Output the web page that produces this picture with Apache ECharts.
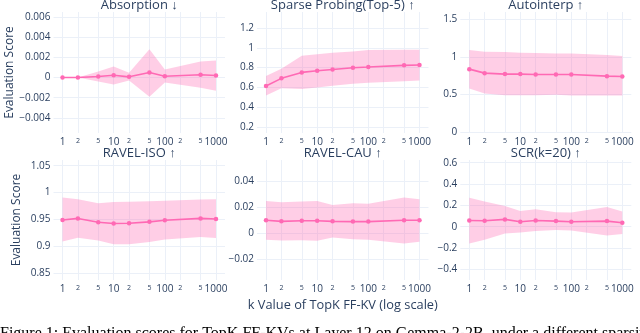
<!DOCTYPE html>
<html><head><meta charset="utf-8">
<script src="https://cdn.jsdelivr.net/npm/echarts@6/dist/echarts.min.js"></script>
<style>html,body{margin:0;padding:0;background:#fff}#c{width:640px;height:333px}</style>
</head><body><div id="c"></div>
<script>
// ---- data ----
const kValues = [1, 2, 5, 10, 20, 50, 100, 500, 1000];
const xTickValues = [1, 2, 5, 10, 20, 50, 100, 200, 500, 1000];
const xTickLabels = ['1', '2', '5', '10', '2', '5', '100', '2', '5', '1000'];
const xMinorTicks = [2, 5, 20, 50, 200, 500];

const panelTitles = ['Absorption ↓', 'Sparse Probing(Top-5) ↑', 'Autointerp ↑', 'RAVEL-ISO ↑', 'RAVEL-CAU ↑', 'SCR(k=20) ↑'];

const absorptionMean  = [0, 0, 0.0001, 0.00023, 0.00007, 0.0005, 0.00013, 0.00027, 0.0002];
const absorptionUpper = [0, 0, 0.0006, 0.0011, 0.00047, 0.0028, 0.0008, 0.0016, 0.0017];
const absorptionLower = [0, 0, -0.0004, -0.0007, -0.0003, -0.0019, -0.0005, -0.001, -0.0013];

const sparseMean  = [0.615, 0.692, 0.752, 0.769, 0.782, 0.799, 0.806, 0.823, 0.826];
const sparseUpper = [0.715, 0.79, 0.92, 0.936, 0.95, 0.963, 0.977, 0.98, 0.98];
const sparseLower = [0.518, 0.592, 0.585, 0.60, 0.618, 0.638, 0.648, 0.662, 0.669];

const autointerpMean  = [0.836, 0.783, 0.77, 0.77, 0.765, 0.765, 0.765, 0.743, 0.739];
const autointerpUpper = [1.088, 1.066, 1.062, 1.053, 1.049, 1.044, 1.044, 1.022, 1.009];
const autointerpLower = [0.58, 0.513, 0.49, 0.49, 0.49, 0.496, 0.487, 0.487, 0.487];

const ravelIsoMean  = [0.949, 0.952, 0.945, 0.9425, 0.943, 0.9456, 0.9487, 0.952, 0.951];
const ravelIsoUpper = [0.991, 0.9875, 0.98, 0.9825, 0.983, 0.984, 0.985, 0.987, 0.9875];
const ravelIsoLower = [0.909, 0.916, 0.911, 0.904, 0.904, 0.908, 0.913, 0.9175, 0.9156];

const ravelCauMean  = [0.01, 0.0092, 0.0097, 0.0097, 0.0092, 0.009, 0.009, 0.01, 0.01];
const ravelCauUpper = [0.0249, 0.0241, 0.0246, 0.0249, 0.0218, 0.0233, 0.0228, 0.0277, 0.0264];
const ravelCauLower = [-0.0051, -0.0056, -0.0054, -0.0059, -0.0033, -0.0046, -0.0051, -0.0079, -0.0067];

const scrMean  = [0.058, 0.055, 0.068, 0.046, 0.058, 0.052, 0.046, 0.052, 0.037];
const scrUpper = [0.271, 0.237, 0.194, 0.148, 0.163, 0.135, 0.132, 0.185, 0.142];
const scrLower = [-0.157, -0.123, -0.065, -0.055, -0.04, -0.031, -0.037, -0.083, -0.068];

const yTicksAbsorption  = [-0.004, -0.002, 0, 0.002, 0.004, 0.006];
const yLabelsAbsorption = ['\u22120.004', '\u22120.002', '0', '0.002', '0.004', '0.006'];
const yTicksSparse  = [0.2, 0.4, 0.6, 0.8, 1, 1.2];
const yLabelsSparse = ['0.2', '0.4', '0.6', '0.8', '1', '1.2'];
const yTicksAutointerp  = [0, 0.5, 1, 1.5];
const yLabelsAutointerp = ['0', '0.5', '1', '1.5'];
const yTicksRavelIso  = [0.85, 0.9, 0.95, 1, 1.05];
const yLabelsRavelIso = ['0.85', '0.9', '0.95', '1', '1.05'];
const yTicksRavelCau  = [-0.02, 0, 0.02, 0.04];
const yLabelsRavelCau = ['\u22120.02', '0', '0.02', '0.04'];
const yTicksScr  = [-0.4, -0.2, 0, 0.2, 0.4, 0.6];
const yLabelsScr = ['\u22120.4', '\u22120.2', '0', '0.2', '0.4', '0.6'];

// ---- layout / style ----
const FONT = '"Open Sans", "Liberation Sans", sans-serif';
const TXT = '#2a3f5f';
const GRIDC = '#EBF0F8';
const LINEC = '#FF69B4';
const FILLC = 'rgba(255,105,180,0.33)';

const cols = [{ left: 53.5, width: 171.5 }, { left: 257, width: 171.5 }, { left: 460.3, width: 171 }];
const rows = [{ top: 12, height: 121 }, { top: 160, height: 120 }];

const panels = [
  { mean: absorptionMean, upper: absorptionUpper, lower: absorptionLower, ticks: yTicksAbsorption, labels: yLabelsAbsorption, min: -0.0055, max: 0.0065 },
  { mean: sparseMean, upper: sparseUpper, lower: sparseLower, ticks: yTicksSparse, labels: yLabelsSparse, min: 0.14, max: 1.362 },
  { mean: autointerpMean, upper: autointerpUpper, lower: autointerpLower, ticks: yTicksAutointerp, labels: yLabelsAutointerp, min: -0.01, max: 1.593 },
  { mean: ravelIsoMean, upper: ravelIsoUpper, lower: ravelIsoLower, ticks: yTicksRavelIso, labels: yLabelsRavelIso, min: 0.8375, max: 1.0606 },
  { mean: ravelCauMean, upper: ravelCauUpper, lower: ravelCauLower, ticks: yTicksRavelCau, labels: yLabelsRavelCau, min: -0.0363, max: 0.0568 },
  { mean: scrMean, upper: scrUpper, lower: scrLower, ticks: yTicksScr, labels: yLabelsScr, min: -0.5, max: 0.625 }
];

const grids = [], xAxes = [], yAxes = [], series = [], graphics = [];

panels.forEach((p, i) => {
  const c = cols[i % 3], r = rows[Math.floor(i / 3)];
  grids.push({ left: c.left, top: r.top, width: c.width, height: r.height, containLabel: false, outerBoundsMode: 'none' });
  xAxes.push({
    type: 'log', logBase: 10, gridIndex: i, min: 0.667, max: 1500,
    axisLine: { show: false },
    axisTick: { show: false, customValues: xTickValues },
    splitLine: { show: true, lineStyle: { color: GRIDC, width: 1 } },
    axisLabel: {
      customValues: xTickValues, margin: 4,
      formatter: (v) => {
        const j = xTickValues.findIndex(t => Math.abs(t - v) < 1e-6 * t);
        if (j < 0) return '';
        return xMinorTicks.indexOf(xTickValues[j]) >= 0 ? '{m|' + xTickLabels[j] + '}' : '{M|' + xTickLabels[j] + '}';
      },
      rich: {
        m: { fontSize: 7, fontFamily: FONT, color: TXT },
        M: { fontSize: 10, fontFamily: FONT, color: TXT }
      }
    }
  });
  yAxes.push({
    type: 'value', gridIndex: i, min: p.min, max: p.max,
    axisLine: { show: false },
    axisTick: { show: false, customValues: p.ticks },
    splitLine: { show: true, lineStyle: { color: GRIDC, width: 1 } },
    axisLabel: {
      customValues: p.ticks, margin: 3, fontSize: 10, fontFamily: FONT, color: TXT,
      formatter: (v) => {
        const j = p.ticks.findIndex(t => Math.abs(t - v) < 1e-9);
        return j >= 0 ? p.labels[j] : '';
      }
    }
  });
  const bandData = kValues.map((k, j) => [k, p.lower[j], p.upper[j]]);
  const meanData = kValues.map((k, j) => [k, p.mean[j]]);
  series.push({
    type: 'custom', xAxisIndex: i, yAxisIndex: i, data: bandData, silent: true, z: 1,
    encode: { x: 0, y: [1, 2] },
    renderItem: (params, api) => {
      if (params.dataIndex !== 0) return null;
      const top = bandData.map(d => api.coord([d[0], d[2]]));
      const bot = bandData.slice().reverse().map(d => api.coord([d[0], d[1]]));
      return { type: 'polygon', shape: { points: top.concat(bot) }, style: { fill: FILLC, stroke: 'none' } };
    }
  });
  series.push({
    type: 'line', xAxisIndex: i, yAxisIndex: i, data: meanData,
    symbol: 'circle', symbolSize: 4.5, itemStyle: { color: LINEC },
    lineStyle: { color: LINEC, width: 1.6 }, z: 3
  });
  graphics.push({
    type: 'text', x: c.left + c.width / 2, y: r.top - 6.5,
    style: { text: panelTitles[i], font: '13px ' + FONT, fill: TXT, textAlign: 'center', textVerticalAlign: 'middle', align: 'center', verticalAlign: 'middle' }
  });
});

graphics.push({
  type: 'text', x: 10, y: 72.5, rotation: Math.PI / 2,
  style: { text: 'Evaluation Score', font: '12px ' + FONT, fill: TXT, textAlign: 'center', textVerticalAlign: 'middle', align: 'center', verticalAlign: 'middle' }
});
graphics.push({
  type: 'text', x: 17, y: 220, rotation: Math.PI / 2,
  style: { text: 'Evaluation Score', font: '12px ' + FONT, fill: TXT, textAlign: 'center', textVerticalAlign: 'middle', align: 'center', verticalAlign: 'middle' }
});
graphics.push({
  type: 'text', x: 342.8, y: 305,
  style: { text: 'k Value of TopK FF-KV (log scale)', font: '12.8px ' + FONT, fill: TXT, textAlign: 'center', textVerticalAlign: 'middle', align: 'center', verticalAlign: 'middle' }
});
graphics.push({
  type: 'text', x: 0, y: 326,
  style: { text: 'Figure 1: Evaluation scores for TopK FF-KVs at Layer 12 on Gemma-2-2B, under a different sparsity', font: '16px "Liberation Serif", serif', fill: '#000', textAlign: 'left', textVerticalAlign: 'top', align: 'left', verticalAlign: 'top' }
});

const chart = echarts.init(document.getElementById('c'), null, { renderer: 'canvas' });
chart.setOption({
  animation: false,
  backgroundColor: '#fff',
  grid: grids, xAxis: xAxes, yAxis: yAxes, series: series,
  graphic: { elements: graphics }
});
</script></body></html>
